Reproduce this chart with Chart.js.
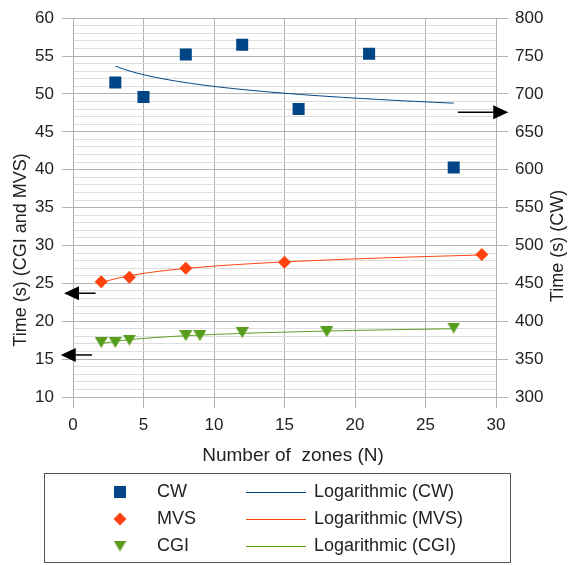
<!DOCTYPE html>
<html lang="en">
<head>
<meta charset="UTF-8">
<title>Time vs number of zones</title>
<script src="https://cdn.jsdelivr.net/npm/chart.js"></script>
<style>
  html, body { margin: 0; padding: 0; background: #fff; }
  .wrap { position: relative; width: 574px; height: 565px; }
</style>
</head>
<body>
<div class="wrap"><canvas id="chart" width="574" height="565"></canvas></div>
<script>
// values
const cwZones  = [3, 5, 8, 12, 16, 21, 27];
const cwTime   = [715, 696, 752, 765, 680, 753, 603];
const mvsZones = [2, 4, 8, 15, 29];
const mvsTime  = [25.2, 25.8, 27.0, 27.8, 28.8];
const cgiZones = [2, 3, 4, 8, 9, 12, 18, 27];
const cgiTime  = [17.2, 17.2, 17.5, 18.1, 18.1, 18.5, 18.6, 19.1];

const xRange     = [0, 30, 5];
const leftRange  = [10, 60, 5];
const rightRange = [300, 800, 50];

// annotation arrows, in x / left-axis units
const arrows = [
  { x0: 27.3, x1: 30.87, y: 47.6 },
  { x0: 1.6,  x1: -0.64, y: 23.7 },
  { x0: 1.35, x1: -0.87, y: 15.55 }
];

const BLUE = '#004586', RED = '#ff420e', GREEN = '#579d1c';
const MAJOR = '#b3b3b3', MINOR = '#dddddd', TEXT = '#222';
const FONT = '"Liberation Sans", Arial, sans-serif';

function pts(xs, ys) { return xs.map((x, i) => ({ x, y: ys[i] })); }

// least squares fit y = a + b ln(x), like the spreadsheet trend line
function logTrend(xs, ys) {
  const lx = xs.map(Math.log);
  const mx = lx.reduce((s, v) => s + v, 0) / lx.length;
  const my = ys.reduce((s, v) => s + v, 0) / ys.length;
  let sxy = 0, sxx = 0;
  lx.forEach((v, i) => { sxy += (v - mx) * (ys[i] - my); sxx += (v - mx) * (v - mx); });
  const b = sxy / sxx, a = my - b * mx;
  const lo = Math.min(...xs), hi = Math.max(...xs), out = [];
  for (let i = 0; i <= 80; i++) {
    const x = lo + (hi - lo) * i / 80;
    out.push({ x, y: a + b * Math.log(x) });
  }
  return out;
}

function triangleDown(color) {
  const c = document.createElement('canvas');
  c.width = 13; c.height = 11;
  const g = c.getContext('2d');
  g.fillStyle = color;
  g.beginPath(); g.moveTo(0, 0); g.lineTo(13, 0); g.lineTo(6.5, 11); g.closePath(); g.fill();
  return c;
}

const decor = {
  id: 'decor',
  afterDraw(chart) {
    const ctx = chart.ctx, xs = chart.scales.x, ys = chart.scales.y;
    ctx.save();
    // arrows
    ctx.strokeStyle = '#000'; ctx.fillStyle = '#000'; ctx.lineWidth = 1.5;
    arrows.forEach(a => {
      const x0 = xs.getPixelForValue(a.x0), x1 = xs.getPixelForValue(a.x1), y = ys.getPixelForValue(a.y);
      const dir = Math.sign(x1 - x0), head = 15;
      ctx.beginPath(); ctx.moveTo(x0, y); ctx.lineTo(x1 - dir * head, y); ctx.stroke();
      ctx.beginPath(); ctx.moveTo(x1, y); ctx.lineTo(x1 - dir * head, y - 7); ctx.lineTo(x1 - dir * head, y + 7); ctx.closePath(); ctx.fill();
    });
    // axis titles
    ctx.fillStyle = TEXT; ctx.textAlign = 'center'; ctx.textBaseline = 'middle';
    ctx.font = '19px ' + FONT;
    ctx.fillText('Number of  zones (N)', 293, 456);
    ctx.font = '18px ' + FONT;
    ctx.save(); ctx.translate(21, 250); ctx.rotate(-Math.PI / 2); ctx.fillText('Time (s) (CGI and MVS)', 0, 0); ctx.restore();
    ctx.save(); ctx.translate(558, 246); ctx.rotate(-Math.PI / 2); ctx.fillText('Time (s) (CW)', 0, 0); ctx.restore();
    // legend box
    ctx.strokeStyle = '#555'; ctx.lineWidth = 1;
    ctx.strokeRect(44.5, 473.5, 466, 89);
    ctx.textAlign = 'left';
    const sets = chart.data.datasets;
    for (let i = 0; i < 3; i++) {
      const p = sets[i], t = sets[i + 3], y = 492 + i * 27;
      ctx.fillStyle = p.backgroundColor;
      Chart.helpers.drawPoint(ctx, { pointStyle: p.pointStyle, radius: p.pointRadius, rotation: 0, borderWidth: 0 }, 120, y);
      ctx.fillStyle = TEXT;
      ctx.fillText(p.label, 157, y);
      ctx.strokeStyle = t.borderColor; ctx.lineWidth = 1;
      ctx.beginPath(); ctx.moveTo(246, y + 0.5); ctx.lineTo(306, y + 0.5); ctx.stroke();
      ctx.fillText(t.label, 314, y);
    }
    ctx.restore();
  }
};

Chart.defaults.font.family = FONT;
Chart.defaults.font.size = 17;
Chart.defaults.color = TEXT;

new Chart(document.getElementById('chart'), {
  type: 'scatter',
  data: {
    datasets: [
      { label: 'CW',  data: pts(cwZones, cwTime),   yAxisID: 'y2', pointStyle: 'rect',    pointRadius: 8.5, backgroundColor: BLUE,  borderWidth: 0, order: 0 },
      { label: 'MVS', data: pts(mvsZones, mvsTime), yAxisID: 'y',  pointStyle: 'rectRot', pointRadius: 6.5, backgroundColor: RED,   borderWidth: 0, order: 0 },
      { label: 'CGI', data: pts(cgiZones, cgiTime), yAxisID: 'y',  pointStyle: triangleDown(GREEN), pointRadius: 7, backgroundColor: GREEN, borderWidth: 0, order: 0 },
      { label: 'Logarithmic (CW)',  data: logTrend(cwZones, cwTime),   yAxisID: 'y2', showLine: true, pointRadius: 0, borderColor: BLUE,  borderWidth: 1, order: 1 },
      { label: 'Logarithmic (MVS)', data: logTrend(mvsZones, mvsTime), yAxisID: 'y',  showLine: true, pointRadius: 0, borderColor: RED,   borderWidth: 1, order: 1 },
      { label: 'Logarithmic (CGI)', data: logTrend(cgiZones, cgiTime), yAxisID: 'y',  showLine: true, pointRadius: 0, borderColor: GREEN, borderWidth: 1, order: 1 }
    ]
  },
  options: {
    responsive: false,
    animation: false,
    events: [],
    layout: { padding: { top: 15, left: 0, right: 0, bottom: 0 } },
    plugins: { legend: { display: false }, tooltip: { enabled: false } },
    scales: {
      x: {
        type: 'linear', min: xRange[0], max: xRange[1],
        ticks: { stepSize: xRange[2], padding: 7 },
        grid: { color: MAJOR, tickLength: 11 },
        border: { color: MAJOR },
        afterFit(s) { s.height = 168; }
      },
      y: {
        position: 'left', min: leftRange[0], max: leftRange[1],
        ticks: { stepSize: 1, autoSkip: false, padding: 8, callback: v => (v % leftRange[2] === 0 ? v : '') },
        grid: {
          tickLength: 11,
          color: c => (c.tick && c.tick.value % leftRange[2] === 0 ? MAJOR : MINOR),
          tickColor: c => (c.tick && c.tick.value % leftRange[2] === 0 ? MAJOR : 'rgba(0,0,0,0)')
        },
        border: { color: MAJOR },
        afterFit(s) { s.width = 73; }
      },
      y2: {
        position: 'right', min: rightRange[0], max: rightRange[1],
        ticks: { stepSize: rightRange[2], padding: 7 },
        grid: { drawOnChartArea: false, tickLength: 12, color: MAJOR },
        border: { color: MAJOR },
        afterFit(s) { s.width = 78; }
      }
    }
  },
  plugins: [decor]
});
</script>
</body>
</html>
